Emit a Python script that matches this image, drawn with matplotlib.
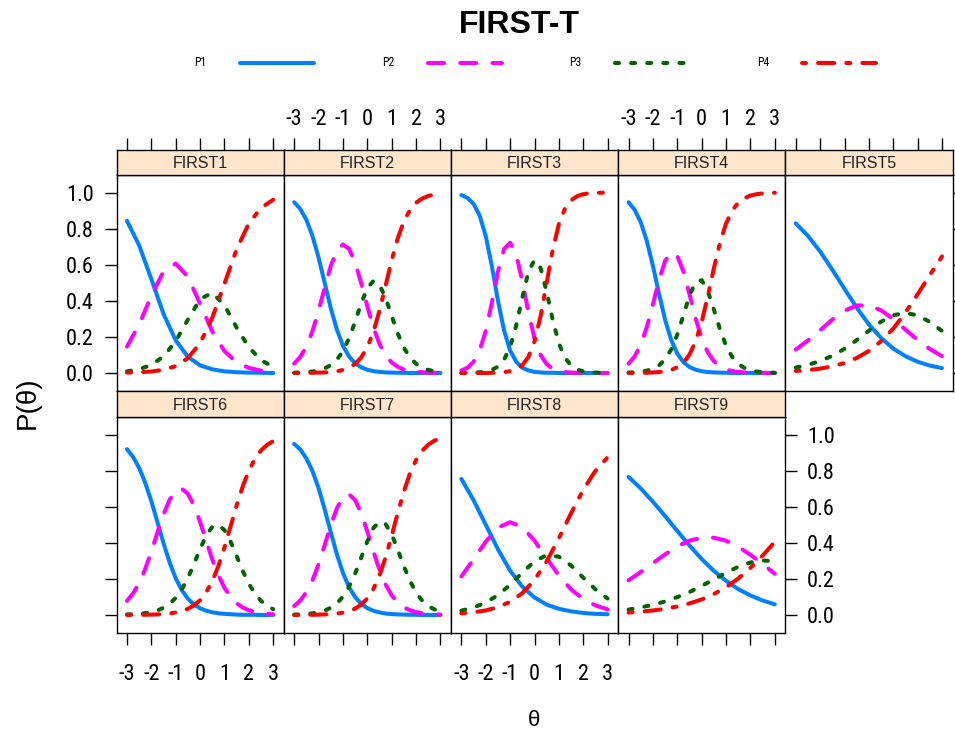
import matplotlib
matplotlib.use("Agg")
import matplotlib.pyplot as plt
from matplotlib import font_manager as fm

# ---------------- data ----------------
theta = [-3.0, -2.5, -2.0, -1.5, -1.0, -0.5, 0.0, 0.5, 1.0, 1.5, 2.0, 2.5, 3.0]
theta_fine = [-3.0, -2.75, -2.5, -2.25, -2.0, -1.75, -1.5, -1.25, -1.0, -0.75,
              -0.5, -0.25, 0.0, 0.25, 0.5, 0.75, 1.0, 1.25, 1.5, 1.75,
              2.0, 2.25, 2.5, 2.75, 3.0]
categories = ["P1", "P2", "P3", "P4"]
items = ["FIRST1", "FIRST2", "FIRST3", "FIRST4", "FIRST5",
         "FIRST6", "FIRST7", "FIRST8", "FIRST9"]
x_ticks = [-3, -2, -1, 0, 1, 2, 3]
x_tick_labels = ["-3", "-2", "-1", "0", "1", "2", "3"]
y_ticks = [0.0, 0.2, 0.4, 0.6, 0.8, 1.0]
y_tick_labels = ["0.0", "0.2", "0.4", "0.6", "0.8", "1.0"]
title = "FIRST-T"
x_label = "θ"
y_label = "P(θ)"

FIRST1_P1 = [.843, .707, .520, .327, .180, .090, .042, .020, .009, .004, .002, .001, .000]
FIRST1_P2 = [.146, .269, .428, .563, .606, .533, .383, .230, .121, .059, .028, .013, .006]
FIRST1_P3 = [.009, .021, .044, .092, .176, .296, .409, .445, .375, .251, .142, .071, .034]
FIRST1_P4 = [.002, .004, .008, .018, .038, .082, .165, .306, .495, .686, .829, .915, .960]

FIRST2_P1 = [.946, .909, .849, .759, .640, .500, .360, .241, .151, .092, .054, .031, .018,
             .010, .006, .003, .002, .001, .001, .000, .000, .000, .000, .000, .000]
FIRST2_P2 = [.052, .089, .146, .232, .344, .472, .592, .677, .712, .688, .612, .498, .369,
             .252, .161, .098, .058, .034, .019, .011, .006, .004, .002, .001, .001]
FIRST2_P3 = [.001, .003, .005, .008, .014, .025, .043, .073, .121, .192, .284, .386, .470,
             .510, .488, .416, .316, .219, .140, .086, .051, .029, .017, .010, .005]
FIRST2_P4 = [.000, .000, .001, .001, .002, .003, .005, .009, .017, .029, .050, .086, .143,
             .228, .345, .483, .625, .747, .840, .903, .943, .967, .981, .989, .994]

FIRST3_P1 = [.986, .970, .937, .872, .759, .592, .401, .236, .124, .062, .029, .014, .006,
             .003, .001, .001, .000, .000, .000, .000, .000, .000, .000, .000, .000]
FIRST3_P2 = [.014, .029, .062, .124, .233, .390, .562, .687, .722, .656, .509, .336, .192,
             .100, .049, .023, .011, .005, .002, .001, .001, .000, .000, .000, .000]
FIRST3_P3 = [.000, .001, .002, .004, .008, .017, .035, .073, .144, .263, .418, .561, .626,
             .582, .450, .292, .164, .084, .041, .019, .009, .004, .002, .001, .000]
FIRST3_P4 = [.000, .000, .000, .000, .000, .001, .002, .004, .010, .020, .043, .089, .175,
             .315, .500, .685, .825, .911, .957, .980, .991, .996, .998, .999, 1.00]

FIRST4_P1 = [.946, .904, .835, .731, .593, .438, .294, .182, .107, .060, .033, .018, .010,
             .005, .003, .002, .001, .000, .000, .000, .000, .000, .000, .000, .000]
FIRST4_P2 = [.051, .092, .157, .255, .381, .515, .621, .669, .648, .562, .436, .303, .192,
             .114, .065, .036, .019, .011, .006, .003, .002, .001, .001, .000, .000]
FIRST4_P3 = [.002, .004, .007, .013, .023, .042, .076, .131, .214, .320, .429, .504, .514,
             .455, .352, .242, .151, .089, .050, .028, .015, .008, .004, .002, .001]
FIRST4_P4 = [.000, .000, .001, .001, .003, .005, .009, .017, .032, .057, .102, .175, .284,
             .426, .581, .721, .829, .900, .944, .969, .983, .991, .995, .997, .999]

FIRST5_P1 = [.829, .760, .673, .572, .466, .362, .269, .194, .135, .093, .062, .041, .027]
FIRST5_P2 = [.130, .180, .237, .296, .345, .374, .375, .347, .299, .240, .183, .133, .093]
FIRST5_P3 = [.030, .045, .066, .095, .134, .182, .234, .284, .320, .333, .319, .283, .233]
FIRST5_P4 = [.011, .016, .024, .037, .055, .083, .122, .176, .246, .335, .436, .543, .646]

FIRST6_P1 = [.919, .876, .815, .732, .630, .514, .397, .291, .203, .137, .090, .058, .037,
             .023, .015, .009, .006, .004, .002, .001, .001, .001, .000, .000, .000]
FIRST6_P2 = [.078, .120, .178, .256, .352, .457, .558, .639, .688, .700, .671, .607, .515,
             .411, .308, .220, .150, .100, .065, .041, .026, .017, .010, .006, .004]
FIRST6_P3 = [.003, .004, .006, .010, .016, .025, .040, .062, .095, .142, .205, .283, .366,
             .440, .489, .500, .470, .407, .326, .244, .173, .118, .078, .050, .032]
FIRST6_P4 = [.000, .001, .001, .001, .002, .003, .005, .008, .014, .021, .034, .053, .082,
             .126, .188, .271, .375, .491, .608, .713, .800, .865, .912, .943, .964]

FIRST7_P1 = [.948, .917, .868, .798, .703, .586, .459, .337, .233, .154, .099, .062, .038,
             .023, .014, .008, .005, .003, .002, .001, .001, .000, .000, .000, .000]
FIRST7_P2 = [.050, .080, .126, .192, .281, .387, .497, .591, .652, .669, .637, .564, .462,
             .352, .250, .169, .109, .069, .043, .026, .016, .010, .006, .004, .002]
FIRST7_P3 = [.002, .003, .005, .009, .015, .024, .040, .064, .101, .156, .229, .318, .408,
             .482, .517, .504, .447, .362, .270, .189, .125, .080, .050, .031, .019]
FIRST7_P4 = [.000, .000, .001, .001, .002, .003, .005, .008, .013, .021, .035, .057, .092,
             .144, .219, .319, .439, .566, .685, .784, .859, .910, .944, .966, .979]

FIRST8_P1 = [.754, .636, .500, .364, .246, .157, .097, .057, .034, .020, .011, .006, .004]
FIRST8_P2 = [.214, .308, .406, .484, .514, .487, .412, .314, .219, .142, .088, .053, .031]
FIRST8_P3 = [.024, .041, .069, .110, .167, .235, .297, .332, .323, .274, .207, .142, .091]
FIRST8_P4 = [.009, .015, .025, .043, .073, .121, .194, .297, .425, .564, .694, .799, .874]

FIRST9_P1 = [.765, .701, .627, .548, .465, .385, .310, .244, .189, .143, .108, .080, .059]
FIRST9_P2 = [.192, .238, .287, .336, .380, .412, .428, .428, .412, .378, .333, .283, .228]
FIRST9_P3 = [.030, .042, .056, .075, .099, .127, .161, .197, .234, .267, .291, .302, .298]
FIRST9_P4 = [.013, .018, .025, .034, .047, .064, .086, .116, .154, .202, .261, .329, .405]

values = {
    "FIRST1": [FIRST1_P1, FIRST1_P2, FIRST1_P3, FIRST1_P4],
    "FIRST2": [FIRST2_P1, FIRST2_P2, FIRST2_P3, FIRST2_P4],
    "FIRST3": [FIRST3_P1, FIRST3_P2, FIRST3_P3, FIRST3_P4],
    "FIRST4": [FIRST4_P1, FIRST4_P2, FIRST4_P3, FIRST4_P4],
    "FIRST5": [FIRST5_P1, FIRST5_P2, FIRST5_P3, FIRST5_P4],
    "FIRST6": [FIRST6_P1, FIRST6_P2, FIRST6_P3, FIRST6_P4],
    "FIRST7": [FIRST7_P1, FIRST7_P2, FIRST7_P3, FIRST7_P4],
    "FIRST8": [FIRST8_P1, FIRST8_P2, FIRST8_P3, FIRST8_P4],
    "FIRST9": [FIRST9_P1, FIRST9_P2, FIRST9_P3, FIRST9_P4],
}

# ---------------- fonts ----------------
names = {f.name for f in fm.fontManager.ttflist}
REG = "Liberation Sans"
plt.rcParams["font.family"] = [REG, "DejaVu Sans"]


def pick_narrow():
    for name in ["Liberation Sans Narrow", "Arial Narrow", "Roboto Condensed",
                 "Open Sans Condensed", "Noto Sans Condensed", "DejaVu Sans Condensed"]:
        if name in names:
            return fm.FontProperties(family=name)
    for fam in ["Liberation Sans", "Noto Sans", "Roboto", "Open Sans", "DejaVu Sans"]:
        for st in ["condensed", "semi-condensed"]:
            fp = fm.FontProperties(family=fam, stretch=st)
            try:
                p = fm.findfont(fp, fallback_to_default=False)
            except Exception:
                continue
            if "ondensed" in p or "arrow" in p:
                return fp
    return fm.FontProperties(family=REG)


NARROW_FP = pick_narrow()
TICK_FS = 16


def style_labels(labels):
    for lab in labels:
        lab.set_fontproperties(NARROW_FP)
        lab.set_fontsize(TICK_FS)


# ---------------- styles ----------------
LW = 2.9
styles = {
    "P1": dict(color="#0080ff", linestyle="-", solid_capstyle="round"),
    "P2": dict(color="#ff00ff", linestyle=(0, (4, 4)), dash_capstyle="round"),
    "P3": dict(color="#006400", linestyle=(0, (1, 3)), dash_capstyle="round"),
    "P4": dict(color="#ff0000", linestyle=(0, (1, 3, 4, 3)), dash_capstyle="round"),
}
fine_items = {"FIRST2", "FIRST3", "FIRST4", "FIRST6", "FIRST7"}

W, H = 955, 734
fig = plt.figure(figsize=(W / 100, H / 100), dpi=100)


def rect(l, t, w, h):
    return [l / W, 1 - (t + h) / H, w / W, h / H]


col_left = [116.5 + i * 167.2 for i in range(5)]
PW = 167.2
row_strip_top = [150.0, 391.0]
row_panel_top = [174.5, 416.5]
PH = 216.5
XLIM = (-3.43, 3.43)
YLIM = (-0.1, 1.1)
FRAME_LW = 1.0
TICK_LEN = 8.5

for idx, item in enumerate(items):
    row = 0 if idx < 5 else 1
    col = idx if idx < 5 else idx - 5
    last_in_row = (col == 4) if row == 0 else (col == 3)
    xs = theta_fine if item in fine_items else theta

    ax = fig.add_axes(rect(col_left[col], row_panel_top[row], PW, PH))
    for cat, vals in zip(categories, values[item]):
        ax.plot(xs, vals, lw=LW, **styles[cat])
    ax.set_xlim(XLIM)
    ax.set_ylim(YLIM)
    for s in ax.spines.values():
        s.set_linewidth(FRAME_LW)
    ax.tick_params(direction="out", length=TICK_LEN, width=1.0,
                   pad=7, color="black", labelcolor="black")

    if row == 1:
        ax.set_xticks(x_ticks)
        ax.set_xticklabels(x_tick_labels)
        ax.tick_params(axis="x", bottom=True, top=False,
                       labelbottom=(col in (0, 2)), pad=14)
        style_labels(ax.get_xticklabels())
    else:
        ax.set_xticks([])

    if col == 0 or last_in_row:
        ax.set_yticks(y_ticks)
        ax.set_yticklabels(y_tick_labels)
        if col == 0:
            ax.tick_params(axis="y", left=True, right=False,
                           labelleft=(row == 0), labelright=False, pad=8)
        else:
            ax.tick_params(axis="y", left=False, right=True,
                           labelleft=False, labelright=(row == 1), pad=7)
        style_labels(ax.get_yticklabels())
    else:
        ax.set_yticks([])

    sax = fig.add_axes(rect(col_left[col], row_strip_top[row], PW,
                            row_panel_top[row] - row_strip_top[row]))
    sax.set_facecolor("#ffe5cc")
    sax.set_xlim(XLIM)
    sax.set_ylim(0, 1)
    sax.set_yticks([])
    for s in sax.spines.values():
        s.set_linewidth(FRAME_LW)
    sax.text(0, 0.45, item, ha="center", va="center", fontsize=11.5, color="#222222")
    if row == 0:
        sax.set_xticks(x_ticks)
        sax.set_xticklabels(x_tick_labels)
        sax.tick_params(axis="x", bottom=False, top=True, labelbottom=False,
                        labeltop=(col in (1, 3)), direction="out",
                        length=TICK_LEN, width=1.0, pad=6)
        style_labels(sax.get_xticklabels())
    else:
        sax.set_xticks([])

# ---------------- legend / titles ----------------
lax = fig.add_axes([0, 0, 1, 1])
lax.set_xlim(0, W)
lax.set_ylim(H, 0)
lax.axis("off")
lax.patch.set_alpha(0)
leg_text_x = [200, 388, 575, 763]
leg_line_x = [240, 428, 615, 802]
for cat, tx, lx in zip(categories, leg_text_x, leg_line_x):
    t = lax.text(tx, 63, cat, ha="center", va="center")
    t.set_fontproperties(NARROW_FP)
    t.set_fontsize(8.5)
    lax.plot([lx, lx + 74], [63, 63], lw=LW, **styles[cat])

fig.text(519 / W, 1 - 25 / H, title, ha="center", va="center",
         fontsize=23, fontweight="bold")
fig.text(534 / W, 1 - 720 / H, x_label, ha="center", va="center", fontsize=16)
fig.text(28 / W, 1 - 403 / H, y_label, ha="center", va="center",
         rotation=90, fontsize=20)

fig.savefig("out.png", dpi=100)
